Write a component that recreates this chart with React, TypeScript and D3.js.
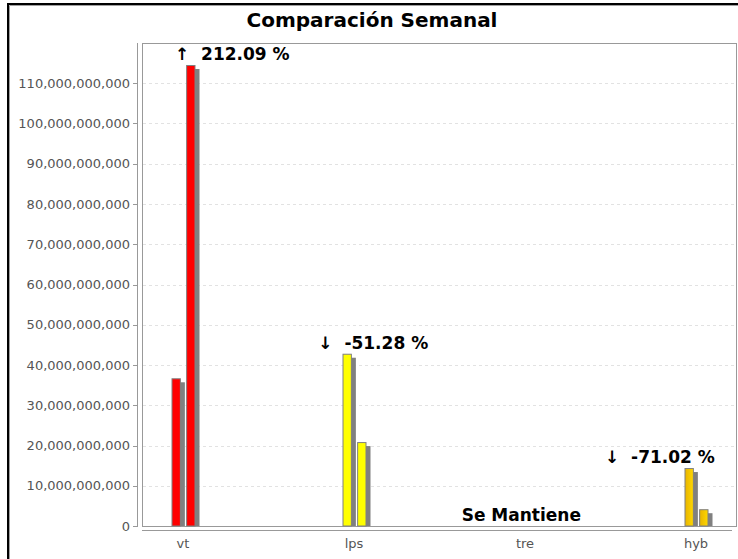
import React from "react";
import * as d3 from "d3";

// Weekly comparison: previous week vs current week per product line
const categories = ["vt", "lps", "tre", "hyb"];
const previousWeek = [36.7e9, 42.8e9, 0, 14.4e9];
const currentWeek = [114.537e9, 20.852e9, 0, 4.173e9];
const seriesKeys = ["previous", "current"];
const categoryColors = ["#ff0000", "#ffff00", "#00a0ff", "url(#goldFill)"];
const yTicks = [0, 10e9, 20e9, 30e9, 40e9, 50e9, 60e9, 70e9, 80e9, 90e9, 100e9, 110e9];
const unchangedLabel = "Se Mantiene";
const titleText = "Comparación Semanal";

const W = 738;
const H = 559;
const plot = { left: 142, right: 737, top: 43, bottom: 526 };
const depth = 5;
const shadowOffset = 4;

const locale = d3.formatLocale({
  decimal: ".",
  thousands: ",",
  grouping: [3],
  currency: ["", ""],
  minus: "-",
});
const fmt = locale.format(",");
const pct = locale.format(".2f");

export default function App() {
  const y = d3.scaleLinear().domain([0, 120e9]).range([plot.bottom, plot.top]);
  const x = d3.scalePoint<string>().domain(categories).range([183, 696]);
  const inner = d3
    .scaleBand<string>()
    .domain(seriesKeys)
    .range([-11.5, 12.5])
    .paddingInner(0.36);
  const noteX = d3.scalePoint<string>().domain(categories).range([175, 605]);

  const labelFont = "'DejaVu Sans', sans-serif";

  return (
    <svg
      width={W}
      height={H}
      style={{ position: "absolute", left: 0, top: 0, background: "#fff" }}
      fontFamily={labelFont}
    >
      <defs>
        <linearGradient id="goldFill" x1="0" x2="1" y1="0" y2="0">
          <stop offset="0" stopColor="#e8b400" />
          <stop offset="1" stopColor="#ffd800" />
        </linearGradient>
      </defs>
      <rect x={0} y={0} width={W} height={H} fill="#fff" />

      {/* chart frame */}
      <path d={`M9.5,${H} V5.5 H${W}`} fill="none" stroke="#a0a0a0" strokeWidth={1} />
      <path d={`M8,${H} V4 H${W}`} fill="none" stroke="#000" strokeWidth={2} />

      {/* title */}
      <text
        x={372}
        y={27}
        textAnchor="middle"
        fontSize={20}
        fontWeight="bold"
        fill="#000"
      >
        {titleText}
      </text>

      {/* back wall */}
      <rect
        x={plot.left + 0.5}
        y={plot.top + 0.5}
        width={plot.right - plot.left - 1}
        height={plot.bottom - plot.top}
        fill="#fff"
        stroke="#999"
      />

      {/* gridlines */}
      {yTicks.slice(1).map((t) => (
        <line
          key={"g" + t}
          x1={plot.left + 1}
          x2={plot.right - 1}
          y1={Math.round(y(t)) + 0.5}
          y2={Math.round(y(t)) + 0.5}
          stroke="#e2e2e2"
          strokeDasharray="3,3"
        />
      ))}

      {/* y axis */}
      <line
        x1={plot.left - depth + 0.5}
        x2={plot.left - depth + 0.5}
        y1={plot.top}
        y2={plot.bottom + 1}
        stroke="#999"
      />
      {yTicks.map((t) => (
        <g key={"t" + t}>
          <line
            x1={plot.left - depth - 4}
            x2={plot.left - depth}
            y1={Math.round(y(t)) + 0.5}
            y2={Math.round(y(t)) + 0.5}
            stroke="#999"
          />
          <text
            x={plot.left - depth - 7}
            y={y(t)}
            dy="0.36em"
            textAnchor="end"
            fontSize={13}
            fill="#555"
          >
            {fmt(t)}
          </text>
        </g>
      ))}

      {/* x axis */}
      <line
        x1={plot.left}
        x2={plot.right - depth}
        y1={plot.bottom + depth - 0.5}
        y2={plot.bottom + depth - 0.5}
        stroke="#999"
      />
      {categories.map((c) => (
        <text
          key={"x" + c}
          x={x(c)}
          y={548}
          textAnchor="middle"
          fontSize={13}
          fill="#555"
        >
          {c}
        </text>
      ))}

      {/* bars with drop shadows */}
      {categories.map((c, i) => {
        const vals = [previousWeek[i], currentWeek[i]];
        return (
          <g key={"b" + c}>
            {vals.map((v, j) => {
              if (v <= 0) return null;
              const bx = (x(c) as number) + (inner(seriesKeys[j]) as number);
              const bw = inner.bandwidth();
              const top = y(v);
              return (
                <g key={j}>
                  <rect
                    x={bx + shadowOffset}
                    y={top + shadowOffset}
                    width={bw}
                    height={plot.bottom - top - shadowOffset}
                    fill="#808080"
                  />
                  <rect
                    x={bx + 0.5}
                    y={top + 0.5}
                    width={bw - 1}
                    height={plot.bottom - top - 0.5}
                    fill={categoryColors[i]}
                    stroke="#808080"
                  />
                </g>
              );
            })}
          </g>
        );
      })}

      {/* change annotations */}
      {categories.map((c, i) => {
        const prev = previousWeek[i];
        const cur = currentWeek[i];
        let label: string;
        if (prev === cur) label = unchangedLabel;
        else {
          const change = (cur / prev - 1) * 100;
          label = (change >= 0 ? "↑ " : "↓ ") + " " + pct(change) + " %";
        }
        const ty = y(Math.max(prev, cur)) - 5;
        return (
          <text
            key={"n" + c}
            x={noteX(c)}
            y={ty}
            fontSize={17}
            fontWeight="bold"
            fill="#000"
            style={{ whiteSpace: "pre" }}
          >
            {label}
          </text>
        );
      })}
    </svg>
  );
}
